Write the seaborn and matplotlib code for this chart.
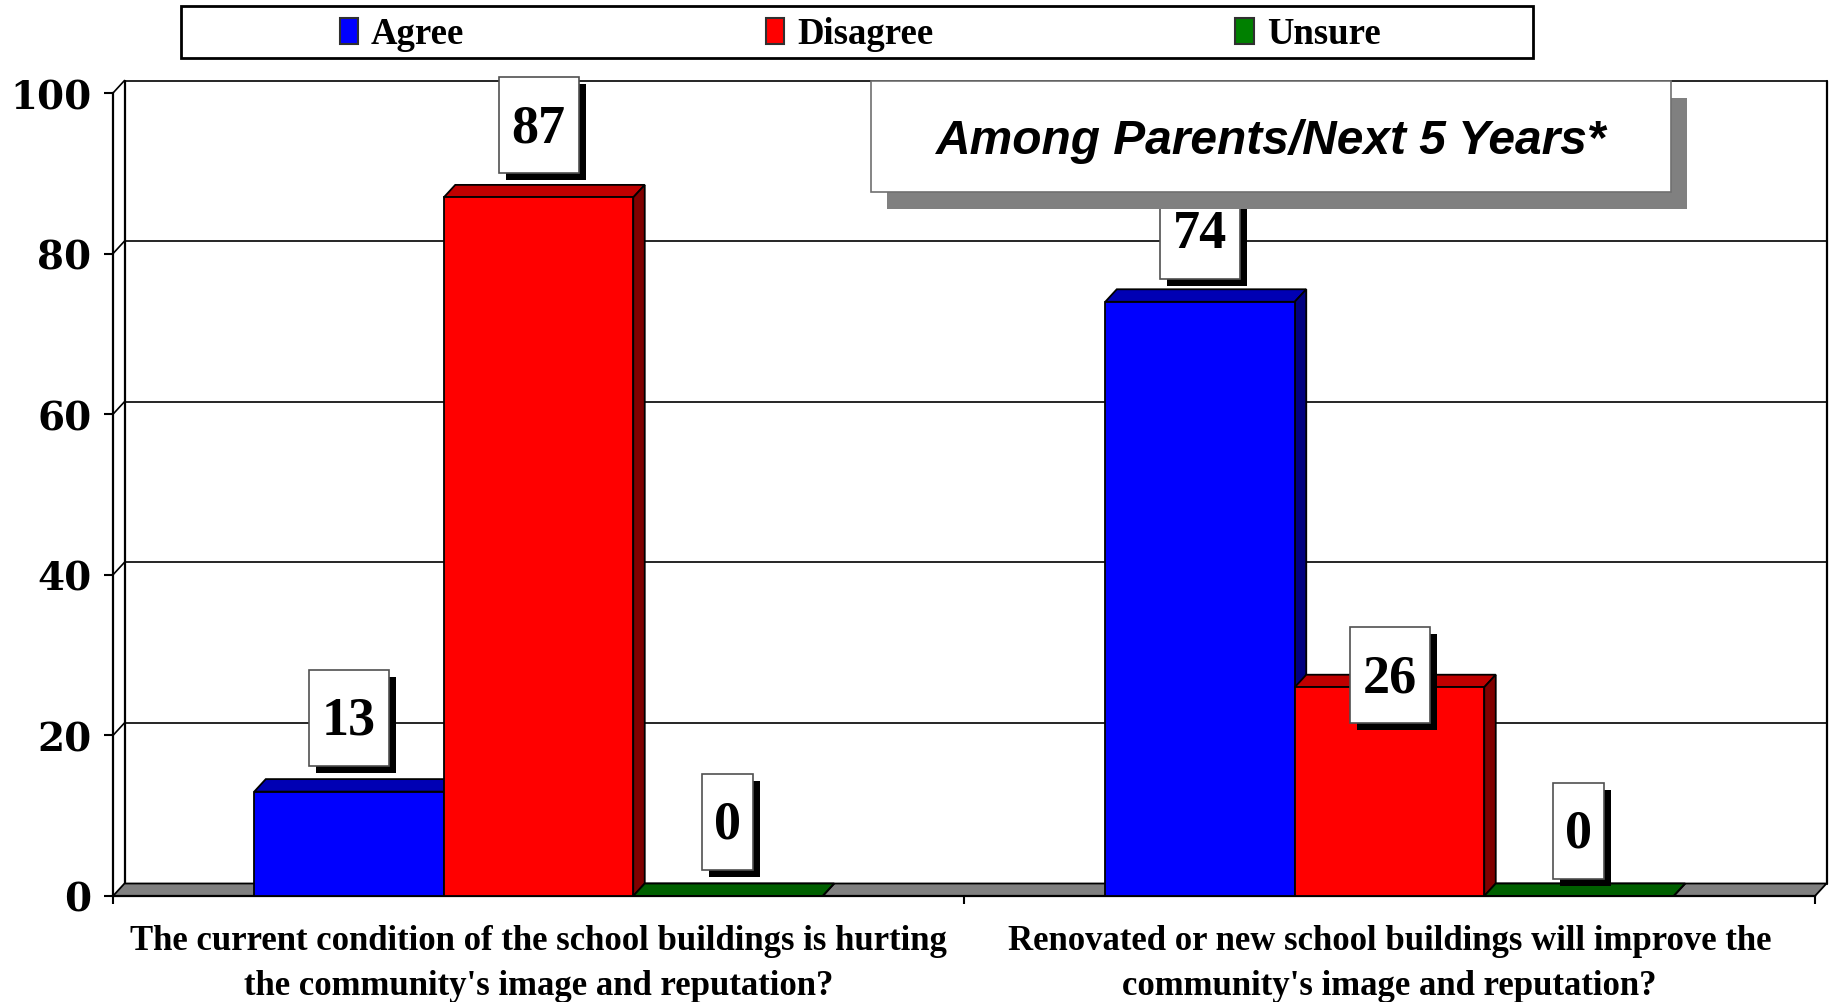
import numpy as np
import pandas as pd
import matplotlib
matplotlib.use("Agg")
import matplotlib.pyplot as plt
import matplotlib.transforms as mtransforms
from matplotlib.patches import Polygon, Rectangle, Patch
import seaborn as sns

# ---------------- data ----------------
questions = [
    "The current condition of the school buildings is hurting\nthe community's image and reputation?",
    "Renovated or new school buildings will improve the\ncommunity's image and reputation?",
]
responses = ["Agree", "Disagree", "Unsure"]
agree = [13, 74]
disagree = [87, 26]
unsure = [0, 0]
title_text = "Among Parents/Next 5 Years*"

rows = []
for qi, q in enumerate(questions):
    for r, vals in zip(responses, [agree, disagree, unsure]):
        rows.append({"question": q, "response": r, "value": vals[qi]})
df = pd.DataFrame(rows)

# ---------------- style ----------------
front = {"Agree": "#0000FF", "Disagree": "#FF0000", "Unsure": "#008000"}
top_c = {"Agree": "#0000B4", "Disagree": "#C00000", "Unsure": "#006000"}
side_c = {"Agree": "#000080", "Disagree": "#800000", "Unsure": "#004000"}

# label lift above bar top (pixels), per question / response
label_lift = [[74, 72, 74], [71, 12, 65]]

sns.set_style("white")
plt.rcParams["font.family"] = ["Liberation Serif", "DejaVu Serif"]
plt.rcParams["font.weight"] = "bold"
plt.rcParams["text.color"] = "black"
plt.rcParams["xtick.color"] = "black"
plt.rcParams["ytick.color"] = "black"
plt.rcParams["axes.labelcolor"] = "black"

W, H = 1835, 1003
fig = plt.figure(figsize=(W / 100, H / 100), dpi=100)
ax = fig.add_axes([113 / W, 1 - 897 / H, 1702 / W, 803 / H])

sns.barplot(data=df, x="question", y="value", hue="response",
            order=questions, hue_order=responses, palette=front,
            width=0.668, saturation=1, errorbar=None, legend=False,
            edgecolor="black", linewidth=1.3, ax=ax)

ax.set_xlim(-0.5, 1.5)
ax.set_ylim(0, 100)
ax.set_xlabel("")
ax.set_ylabel("")

# depth of the fake 3d in data units
dxp, dyp = 11.5, 12.5
dx = dxp / (1702 / 2)
dy = dyp / (803 / 100)

# back wall, floor, left wall
floor = Polygon([(-0.5, 0), (1.5, 0), (1.5 + dx, dy), (-0.5 + dx, dy)],
                closed=True, fc="#808080", ec="black", lw=1.3, zorder=1.5,
                clip_on=False)
ax.add_patch(floor)
for yv in [20, 40, 60, 80, 100]:
    ax.plot([-0.5 + dx, 1.5 + dx], [yv + dy, yv + dy], color="black", lw=1.2,
            zorder=1, clip_on=False)
    ax.plot([-0.5, -0.5 + dx], [yv, yv + dy], color="black", lw=1.2,
            zorder=1, clip_on=False)
for xv in [-0.5 + dx, 1.5 + dx]:
    ax.plot([xv, xv], [dy, 100 + dy], color="black", lw=1.6, zorder=1,
            clip_on=False)

# 3d faces on bars, left to right
bars = []
for ri, cont in enumerate(ax.containers):
    for qi, bar in enumerate(cont):
        bars.append((bar.get_x(), qi, ri, bar))
bars.sort(key=lambda t: t[0])
for k, (x0, qi, ri, bar) in enumerate(bars):
    r = responses[ri]
    w = bar.get_width()
    h = bar.get_height()
    z = 3 + k * 0.1
    top = Polygon([(x0, h), (x0 + w, h), (x0 + w + dx, h + dy), (x0 + dx, h + dy)],
                  closed=True, fc=top_c[r], ec="black", lw=1.3, zorder=z,
                  clip_on=False)
    side = Polygon([(x0 + w, 0), (x0 + w + dx, dy), (x0 + w + dx, h + dy), (x0 + w, h)],
                   closed=True, fc=side_c[r], ec="black", lw=1.3, zorder=z,
                   clip_on=False)
    ax.add_patch(top)
    ax.add_patch(side)
    bar.set_zorder(z + 0.05)
    bar.set_clip_on(False)

# axes / ticks
for s in ["top", "right"]:
    ax.spines[s].set_visible(False)
for s in ["left", "bottom"]:
    ax.spines[s].set_linewidth(1.6)
    ax.spines[s].set_color("black")
    ax.spines[s].set_zorder(2)

ax.set_yticks([0, 20, 40, 60, 80, 100])
ax.tick_params(axis="y", length=6.5, width=1.5, pad=9, colors="black",
               left=True)
for lab in ax.get_yticklabels():
    lab.set_fontweight("bold")
    lab.set_fontsize(28)
    lab.set_family(["DejaVu Serif"])
ax.set_xticks([0, 1])
ax.set_xticklabels(questions, fontsize=25, fontweight="bold", linespacing=1.47)
ax.set_xticks([-0.5, 0.5, 1.5], minor=True)
ax.tick_params(axis="x", which="major", length=0, pad=20)
ax.tick_params(axis="x", which="minor", length=6, width=1.5, bottom=True)

# value labels in boxes with drop shadow
ident = mtransforms.IdentityTransform()
vals = [agree, disagree, unsure]
for x0, qi, ri, bar in bars:
    v = vals[ri][qi]
    px, py = ax.transData.transform((x0 + bar.get_width() / 2, v))
    cy = py + label_lift[qi][ri]
    s = str(v)
    bw, bh = 22 + 29 * len(s), 96
    fig.add_artist(Rectangle((px - bw / 2 + 7, cy - bh / 2 - 7), bw, bh,
                             fc="black", ec="none", transform=ident, zorder=6))
    fig.add_artist(Rectangle((px - bw / 2, cy - bh / 2), bw, bh,
                             fc="white", ec="#505050", lw=1.2, transform=ident,
                             zorder=6.1))
    fig.text(px, cy - 3, s, transform=ident, ha="center", va="center",
             fontsize=39, fontweight="bold", color="black", zorder=6.2)

# title box
tx0, ty0, tw, th = 871, H - 193, 800, 111
fig.add_artist(Rectangle((tx0 + 16, ty0 - 17), tw, th, fc="#808080", ec="none",
                         transform=ident, zorder=9))
fig.add_artist(Rectangle((tx0, ty0), tw, th, fc="white", ec="#707070", lw=1.2,
                         transform=ident, zorder=9.1))
fig.text(tx0 + tw / 2, ty0 + th / 2 - 4, title_text, transform=ident,
         ha="center", va="center", fontsize=34.5, fontweight="bold",
         fontstyle="italic", family=["Liberation Sans", "DejaVu Sans"],
         color="black", zorder=9.2)

# legend with its own frame
fig.add_artist(Rectangle((181, H - 58.5), 1352, 51.5, fc="white", ec="black",
                         lw=2, transform=ident, zorder=7))
handles = [Patch(facecolor=front[r], edgecolor="#303030", lw=1.5) for r in responses]
leg = fig.legend(handles, responses, loc="center",
                 bbox_to_anchor=(860 / W, 1 - 35 / H), ncol=3, frameon=False,
                 fontsize=26.5, handlelength=0.5, handleheight=0.7,
                 handletextpad=0.35, columnspacing=8.2)
for t in leg.get_texts():
    t.set_fontweight("bold")
    t.set_color("black")
leg.set_zorder(8)

fig.savefig("out.png", dpi=100, facecolor="white")
